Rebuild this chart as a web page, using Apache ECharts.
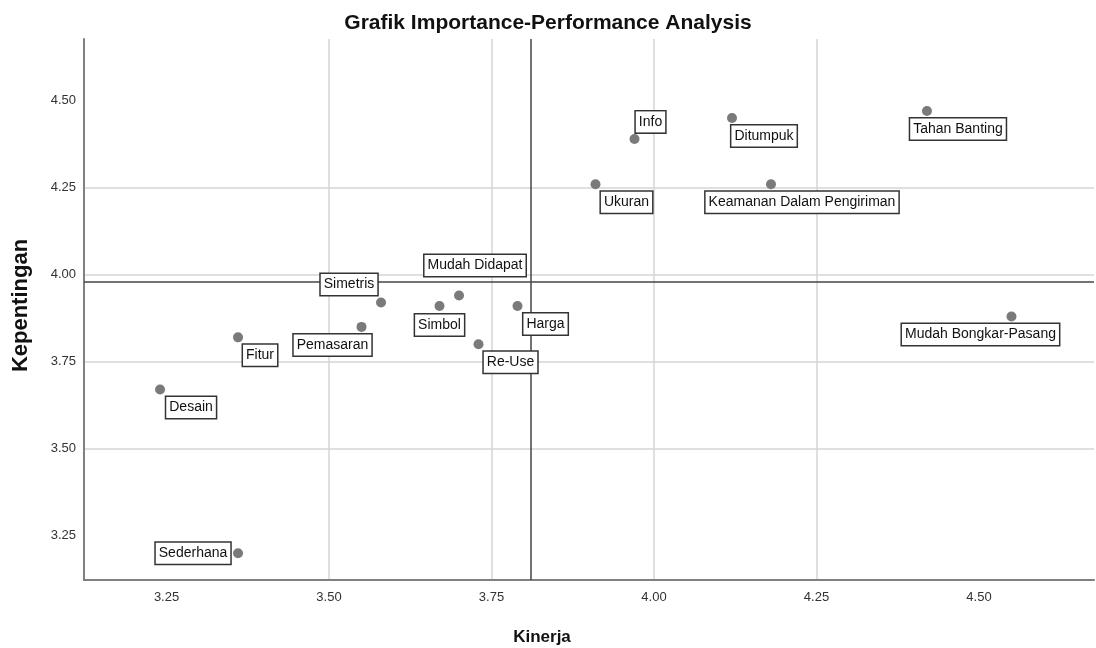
<!DOCTYPE html>
<html>
<head>
<meta charset="utf-8">
<script src="https://cdn.jsdelivr.net/npm/echarts@6/dist/echarts.min.js"></script>
<style>
html,body{margin:0;padding:0;background:#fff;}
#chart{width:1096px;height:648px;}
</style>
</head>
<body>
<div id="chart"></div>
<script>
// ---- data ----
var attributes = ["Tahan Banting","Info","Ditumpuk","Ukuran","Keamanan Dalam Pengiriman","Mudah Bongkar-Pasang","Simetris","Mudah Didapat","Simbol","Harga","Re-Use","Pemasaran","Fitur","Desain","Sederhana"];
var kinerja     = [4.42, 3.97, 4.12, 3.91, 4.18, 4.55, 3.58, 3.70, 3.67, 3.79, 3.73, 3.55, 3.36, 3.24, 3.36];
var kepentingan = [4.47, 4.39, 4.45, 4.26, 4.26, 3.88, 3.92, 3.94, 3.91, 3.91, 3.80, 3.85, 3.82, 3.67, 3.20];
var xTicks = [3.25, 3.50, 3.75, 4.00, 4.25, 4.50];
var yTicks = [3.25, 3.50, 3.75, 4.00, 4.25, 4.50];
var meanKinerja = 3.81;
var meanKepentingan = 3.98;

// ---- label placement (layout only) ----
var labelOffsets = [[31,18],[16,-17],[32,18],[31,18],[31,18],[-31,18],[-32,-18],[16,-30],[0,19],[28,18],[32,18],[-29,18],[22,18],[31,18],[-45,0]];

var points = attributes.map(function(name, i){
  return {
    name: name,
    value: [kinerja[i], kepentingan[i]],
    label: { offset: labelOffsets[i] }
  };
});

var chart = echarts.init(document.getElementById('chart'), null, {renderer:'canvas'});
var fontFam = 'Arial, "Liberation Sans", sans-serif';
chart.setOption({
  animation: false,
  backgroundColor: '#ffffff',
  title: {
    text: 'Grafik Importance-Performance Analysis',
    left: 'center',
    top: 8,
    textStyle: { fontFamily: fontFam, fontSize: 21, fontWeight: 'bold', color: '#111' }
  },
  grid: { left: 84, right: 2, top: 39, bottom: 68, containLabel: false, outerBoundsMode: 'none' },
  xAxis: {
    type: 'value',
    min: 3.123, max: 4.677,
    name: 'Kinerja',
    nameLocation: 'middle',
    nameGap: 49,
    nameTextStyle: { fontFamily: fontFam, fontSize: 17, fontWeight: 'bold', color: '#111', padding: [0, 94, 0, 0] },
    axisLine: { show: true, lineStyle: { color: '#808080', width: 2 } },
    axisTick: { show: false, customValues: xTicks },
    axisLabel: { customValues: xTicks, margin: 11, fontFamily: fontFam, fontSize: 13, color: '#333',
      formatter: function(v){ return v.toFixed(2); } },
    splitLine: { show: true, showMinLine: false, showMaxLine: false, lineStyle: { color: '#d4d4d4', width: 1.5 } }
  },
  yAxis: {
    type: 'value',
    min: 3.123, max: 4.677,
    name: 'Kepentingan',
    nameLocation: 'middle',
    nameGap: 52,
    nameTextStyle: { fontFamily: fontFam, fontSize: 22, fontWeight: 'bold', color: '#111', padding: [0, 0, 0, 8] },
    axisLine: { show: true, lineStyle: { color: '#808080', width: 2 } },
    axisTick: { show: false, customValues: yTicks },
    axisLabel: { customValues: yTicks, margin: 8, fontFamily: fontFam, fontSize: 13, color: '#333',
      formatter: function(v){ return v.toFixed(2); } },
    splitLine: { show: true, showMinLine: false, showMaxLine: false, lineStyle: { color: '#d4d4d4', width: 1.5 } }
  },
  series: [{
    type: 'scatter',
    data: points,
    symbol: 'circle',
    symbolSize: 10,
    itemStyle: { color: '#7a7a7a', opacity: 1 },
    label: {
      show: true,
      position: 'inside',
      formatter: '{b}',
      fontFamily: fontFam,
      fontSize: 14,
      color: '#111',
      opacity: 1,
      backgroundColor: '#ffffff',
      borderColor: '#333',
      borderWidth: 1.5,
      padding: [4, 3, 3, 3]
    },
    markLine: {
      silent: true,
      symbol: ['none', 'none'],
      label: { show: false },
      lineStyle: { color: '#444', width: 1.5, type: 'solid', opacity: 1 },
      data: [{ xAxis: meanKinerja }, { yAxis: meanKepentingan }],
      z: 1
    },
    z: 3
  }]
});
</script>
</body>
</html>
